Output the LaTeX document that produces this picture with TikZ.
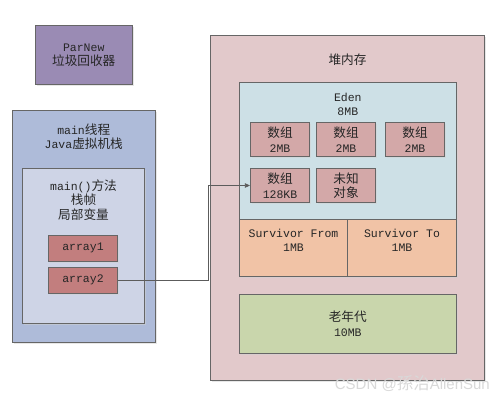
\documentclass[tikz,border=0pt]{standalone}
\usepackage{fontspec}
\setmainfont{Liberation Mono}
\newfontfamily\cjk[Scale=1.1]{Noto Sans CJK SC}
\newfontfamily\wmfont{Liberation Sans}
\usetikzlibrary{shadows,arrows.meta}
\definecolor{parnew}{HTML}{9A8BB4}
\definecolor{thread}{HTML}{AEBBD9}
\definecolor{frame}{HTML}{CED4E6}
\definecolor{arr}{HTML}{C27E7E}
\definecolor{heap}{HTML}{E2C9CB}
\definecolor{eden}{HTML}{CDE0E6}
\definecolor{obj}{HTML}{D3A8A8}
\definecolor{surv}{HTML}{F1C3A6}
\definecolor{old}{HTML}{C9D6AC}
\definecolor{edge}{HTML}{666666}
\tikzset{
  box/.style={draw=edge, line width=0.8pt, inner sep=0pt, rectangle,
    drop shadow={shadow xshift=1.5pt, shadow yshift=-1.5pt, fill=black!18}},
  txt/.style={align=center, inner sep=0pt, font=\fontsize{11.5}{14.5}\selectfont, text=black!85},
  conn/.style={draw=edge!90!black, line width=0.8pt, -{Triangle[length=5pt,width=4.5pt]}}
}
\begin{document}
\begin{tikzpicture}[x=1pt,y=-1pt]
\useasboundingbox[fill=white] (0,0) rectangle (492,402);
% ParNew
\node[box, fill=parnew, minimum width=96.5pt, minimum height=59.3pt] (parnew) at (83.75,54.7) {};
\node[txt] (parnewt) at (83.75,55) {ParNew\\{\cjk 垃圾回收器}};
% main thread stack
\node[box, fill=thread, minimum width=142.5pt, minimum height=231.7pt] (thread) at (83.75,226.2) {};
\node[txt] (threadt) at (83.75,136.8) {main{\cjk 线程}\\Java{\cjk 虚拟机栈}};
\node[box, fill=frame, minimum width=122.4pt, minimum height=155pt] (frame) at (83.5,245.8) {};
\node[txt] (framet) at (83.5,200) {main(){\cjk 方法}\\{\cjk 栈帧}\\{\cjk 局部变量}};
\node[box, fill=arr, minimum width=69.4pt, minimum height=26pt, txt] (a1) at (83,248.3) {array1};
\node[box, fill=arr, minimum width=69.4pt, minimum height=26pt, txt] (a2) at (83,280.3) {array2};
% heap
\node[box, fill=heap, minimum width=274pt, minimum height=345pt] (heap) at (347.3,207.5) {};
\node[txt] (heapt) at (347.5,59.3) {{\cjk 堆内存}};
\node[box, fill=eden, minimum width=217pt, minimum height=137pt] (eden) at (347.8,150.8) {};
\node[txt] (edent) at (347.8,104.5) {Eden\\8MB};
\node[box, fill=obj, minimum width=59.4pt, minimum height=34.4pt, txt] (o1) at (280,139.5) {{\cjk 数组}\\2MB};
\node[box, fill=obj, minimum width=59.4pt, minimum height=34.4pt, txt] (o2) at (346,139.5) {{\cjk 数组}\\2MB};
\node[box, fill=obj, minimum width=59.4pt, minimum height=34.4pt, txt] (o3) at (415,139.5) {{\cjk 数组}\\2MB};
\node[box, fill=obj, minimum width=59.4pt, minimum height=34.4pt, txt] (kb) at (280,185.5) {{\cjk 数组}\\128KB};
\node[box, fill=obj, minimum width=59.4pt, minimum height=34.4pt, txt] (unk) at (346,185.5) {{\cjk 未知}\\{\cjk 对象}};
\node[box, fill=surv, minimum width=108.4pt, minimum height=57pt] (sfrom) at (293.5,247.8) {};
\node[box, fill=surv, minimum width=108.6pt, minimum height=57pt] (sto) at (402,247.8) {};
\node[txt] (sfromt) at (293.5,240.2) {Survivor From\\1MB};
\node[txt] (stot) at (402,240.2) {Survivor To\\1MB};
\node[box, fill=old, minimum width=217pt, minimum height=59pt, txt] (old) at (347.8,323.8) {{\cjk 老年代}\\10MB};
% connector
\draw[conn] (a2.east) -- ++(90,0) |- (kb.west);
% watermark
\node[inner sep=0pt, text=white!85!black, font=\wmfont\fontsize{15}{15}\selectfont, anchor=east] (wm) at (490,384) {CSDN @{\cjk 孫治}AllenSun};
\end{tikzpicture}
\end{document}
